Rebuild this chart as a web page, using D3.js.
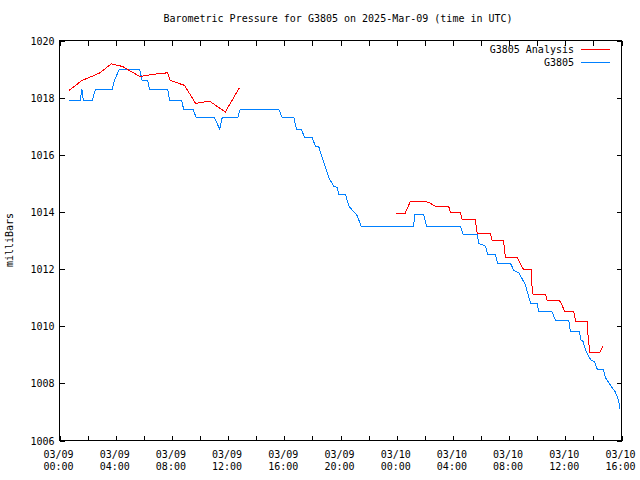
<!DOCTYPE html>
<html><head><meta charset="utf-8">
<script src="https://cdn.jsdelivr.net/npm/d3@7"></script>
<style>
body{margin:0;background:#fff}
svg{display:block}
text{font-family:"DejaVu Sans Mono",monospace;font-size:10px;fill:#000}
</style>
</head><body>
<svg id="chart" width="640" height="480"></svg>
<script>
const chartTitle = "Barometric Pressure for G3805 on 2025-Mar-09 (time in UTC)";
const yAxisLabel = "milliBars";
const seriesNames = ["G3805 Analysis", "G3805"];
const seriesColors = ["#ff0000", "#0080ff"];
const startTime = Date.UTC(2025, 2, 9, 0, 0);
const endTime = Date.UTC(2025, 2, 10, 16, 0);
const yTickValues = [1006, 1008, 1010, 1012, 1014, 1016, 1018, 1020];

// G3805 Analysis (hours after 03/09 00:00 UTC); null marks the gap
const analysisHours = [0.66, 1.60, 2.85, 3.68, 4.50, 4.98, 5.70, 6.88, 7.70, 7.88, 8.90, 9.68, 10.67, 11.80, 12.80,
  18.0,
  23.98, 24.58, 24.98, 25.65, 26.29, 26.53, 26.77, 27.70, 27.83, 28.54, 28.66, 29.60, 29.73, 30.68, 30.80,
  31.60, 31.74, 32.60, 32.81, 33.05, 33.57, 33.64, 33.71, 34.59, 34.71, 35.59, 35.78, 35.94, 36.60, 36.73,
  37.56, 37.62, 37.74, 38.45, 38.70];
const analysisValues = [1018.25, 1018.60, 1018.86, 1019.18, 1019.09, 1018.95, 1018.74, 1018.83, 1018.87, 1018.60, 1018.43, 1017.80, 1017.88, 1017.50, 1018.34,
  null,
  1013.93, 1013.93, 1014.38, 1014.38, 1014.34, 1014.26, 1014.19, 1014.19, 1013.99, 1013.99, 1013.72, 1013.72, 1013.23, 1013.23, 1013.00,
  1013.00, 1012.40, 1012.40, 1012.18, 1011.97, 1011.97, 1011.31, 1011.11, 1011.11, 1010.90, 1010.90, 1010.72, 1010.53, 1010.53, 1010.18,
  1010.18, 1009.67, 1009.07, 1009.07, 1009.32];

// G3805 observations
const obsHours = [0.66, 1.47, 1.59, 1.70, 2.33, 2.56, 3.75, 3.90, 4.27, 5.70, 5.88, 6.28, 6.40, 7.70, 7.83, 8.70, 8.83, 9.50, 9.73,
  11.03, 11.40, 11.58, 12.69, 12.86, 15.60, 15.85, 16.68, 16.87, 17.20, 17.46, 17.98, 18.22, 18.46, 19.17, 19.52, 19.76, 19.88,
  20.36, 20.60, 21.19, 21.47, 25.20, 25.29, 25.93, 26.12, 28.54, 28.73, 29.73, 29.84, 30.32, 30.49, 31.03, 31.19, 32.10, 32.34,
  32.70, 32.93, 33.17, 33.40, 33.53, 34.00, 34.11, 35.06, 35.30, 36.25, 36.37, 37.00, 37.13, 37.25, 37.50, 37.84, 38.08, 38.27,
  38.70, 38.86, 39.22, 39.57, 39.80, 39.88];
const obsValues = [1017.9, 1017.9, 1018.3, 1017.9, 1017.9, 1018.3, 1018.3, 1018.6, 1019.0, 1019.0, 1018.6, 1018.6, 1018.3, 1018.3, 1017.9, 1017.9, 1017.6, 1017.6, 1017.3,
  1017.3, 1016.9, 1017.3, 1017.3, 1017.6, 1017.6, 1017.3, 1017.3, 1016.9, 1016.9, 1016.6, 1016.6, 1016.3, 1016.27, 1015.2, 1014.9, 1014.86, 1014.6,
  1014.6, 1014.2, 1013.87, 1013.5, 1013.5, 1013.9, 1013.9, 1013.5, 1013.5, 1013.2, 1013.2, 1012.9, 1012.8, 1012.5, 1012.5, 1012.2, 1012.2, 1011.95,
  1011.86, 1011.66, 1011.43, 1011.02, 1010.8, 1010.8, 1010.5, 1010.5, 1010.2, 1010.2, 1009.8, 1009.8, 1009.5, 1009.48, 1009.09, 1008.8, 1008.77, 1008.5,
  1008.5, 1008.2, 1007.93, 1007.69, 1007.4, 1007.1];

const svg = d3.select("#chart");
const plotLeft = 59.5, plotRight = 621.5, plotTop = 40.5, plotBottom = 440.5;
const toDate = h => new Date(startTime + h * 3600000);

const x = d3.scaleUtc().domain([new Date(startTime), new Date(endTime)]).range([plotLeft, plotRight]);
const y = d3.scaleLinear().domain([1006, 1020]).range([plotBottom, plotTop]);

const xTicks = d3.utcHour.every(2).range(new Date(startTime), new Date(endTime + 1));
const fmtDay = d3.utcFormat("%m/%d"), fmtTime = d3.utcFormat("%H:%M");

// Title
svg.append("text").attr("x", 338).attr("y", 22).attr("text-anchor", "middle").text(chartTitle);
// Y label
svg.append("text").attr("transform", "translate(13,240) rotate(-90)").attr("text-anchor", "middle").text(yAxisLabel);

// Axes
const gB = svg.append("g").attr("transform", `translate(0,${plotBottom})`)
  .call(d3.axisBottom(x).tickValues(xTicks).tickSizeInner(-5).tickSizeOuter(0).tickFormat(""));
const gT = svg.append("g").attr("transform", `translate(0,${plotTop})`)
  .call(d3.axisTop(x).tickValues(xTicks).tickSizeInner(-5).tickSizeOuter(0).tickFormat(""));
const gL = svg.append("g").attr("transform", `translate(${plotLeft},0)`)
  .call(d3.axisLeft(y).tickValues(yTickValues).tickSizeInner(-5).tickSizeOuter(0).tickPadding(5).tickFormat(d3.format("d")));
const gR = svg.append("g").attr("transform", `translate(${plotRight},0)`)
  .call(d3.axisRight(y).tickValues(yTickValues).tickSizeInner(-5).tickSizeOuter(0).tickFormat(""));
[gB, gT, gL, gR].forEach(g => {
  g.select(".domain").remove();
  g.selectAll("line").attr("stroke", "#000").attr("shape-rendering", "crispEdges");
  g.selectAll("text").style("font-family", "'DejaVu Sans Mono',monospace").style("font-size", "10px").attr("fill", "#000");
});
gL.selectAll("text").attr("x", -5).attr("dy", "0.35em");

// X labels (two lines) every 4 hours
const labelTicks = xTicks.filter(d => d.getUTCHours() % 4 === 0);
const xl = svg.append("g").selectAll("text").data(labelTicks).join("text")
  .attr("text-anchor", "middle");
xl.append("tspan").attr("x", d => x(d) - 1).attr("y", 458).text(d => fmtDay(d));
xl.append("tspan").attr("x", d => x(d) - 1).attr("y", 470).text(d => fmtTime(d));

// Frame
svg.append("rect").attr("x", plotLeft).attr("y", plotTop).attr("width", plotRight - plotLeft).attr("height", plotBottom - plotTop)
  .attr("fill", "none").attr("stroke", "#000").attr("shape-rendering", "crispEdges");

// Lines
const line = d3.line().defined(d => d[1] !== null).x(d => x(toDate(d[0]))).y(d => y(d[1]));
const analysisData = analysisHours.map((h, i) => [h, analysisValues[i]]);
const obsData = obsHours.map((h, i) => [h, obsValues[i]]);

svg.append("path").datum(obsData).attr("d", line).attr("fill", "none")
  .attr("stroke", seriesColors[1]).attr("stroke-width", 1).attr("shape-rendering", "crispEdges");
svg.append("path").datum(analysisData).attr("d", line).attr("fill", "none")
  .attr("stroke", seriesColors[0]).attr("stroke-width", 1).attr("shape-rendering", "crispEdges");

// Legend
const legendY = [49.5, 62.5];
seriesNames.forEach((name, i) => {
  svg.append("text").attr("x", 574).attr("y", legendY[i] + 3.5).attr("text-anchor", "end").text(name);
  svg.append("line").attr("x1", 581).attr("x2", 610).attr("y1", legendY[i]).attr("y2", legendY[i])
    .attr("stroke", seriesColors[i]).attr("stroke-width", 1).attr("shape-rendering", "crispEdges");
});
</script>
</body></html>
